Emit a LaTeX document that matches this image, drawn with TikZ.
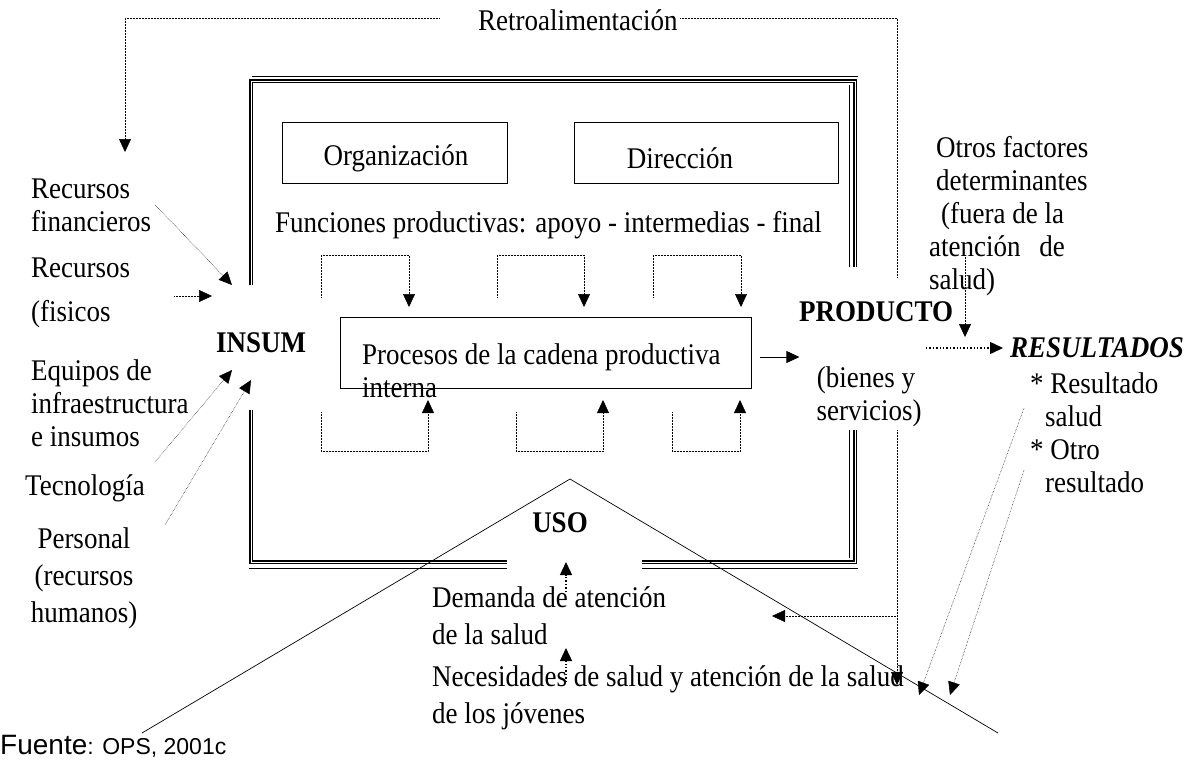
\documentclass[tikz,border=0pt]{standalone}
\usepackage{fontspec}
\setmainfont[FakeStretch=0.9]{Liberation Serif}
\newfontfamily\srcfont{Liberation Sans}
\usetikzlibrary{arrows.meta}
\tikzset{
  lbl/.style={inner sep=0pt, align=left, font=\fontsize{30}{33}\selectfont},
  bld/.style={lbl, font=\fontsize{30}{33}\selectfont\bfseries},
  bx/.style={draw, line width=0.8pt, inner sep=0pt},
  frm/.style={line width=1.3pt, double, double distance=1pt},
  frmin/.style={line width=0.7pt},
  dots/.style={densely dotted, line width=0.5pt},
  dotarr/.style={dots, -{Triangle[length=13pt,width=12pt]}},
  bigdot/.style={dotted, line width=1.4pt, -{Triangle[length=13pt,width=12pt]}},
}
\begin{document}
\begin{tikzpicture}[x=1pt, y=-1pt]
    \useasboundingbox (0,0) rectangle (1190,764);
    % marco doble
    \draw[frm] (251,285) -- (251,81) -- (855,81) -- (855,267);
    \draw[frm] (251,410) -- (251,562) -- (507,562);
    \draw[frm] (642,562) -- (855,562) -- (855,430);
    \draw[frmin] (252,76) -- (858,76);
    \draw[frmin] (849,85) -- (849,267);
    \draw[frmin] (849,430) -- (849,558);
    \draw[frmin] (249,568) -- (507,568);
    \draw[frmin] (642,568) -- (858,568);
    % techo del uso
    \draw[line width=0.7pt] (142,733) -- (570,479) -- (998,733);

    \node[lbl, anchor=west] (retro) at (478,20) {Retroalimentación};
    \node[bx, minimum width=225pt, minimum height=61pt] (org) at (394.5,152.5) {};
    \node[lbl] (orgtxt) at (396,158) {Organización};
    \node[bx, minimum width=264pt, minimum height=61pt] (dir) at (706,152.5) {};
    \node[lbl] (dirtxt) at (680,158) {Dirección};
    \node[lbl, anchor=west] (func) at (275,225)
      {Funciones productivas: apoyo - intermedias - final};
    \node[bx, minimum width=411pt, minimum height=71pt] (proc) at (545.5,352.5) {};
    \node[lbl, anchor=west] (proctxt) at (362,371)
      {Procesos de la cadena productiva\\interna};
    \node[bld, anchor=west] (insum) at (216,343) {INSUM};
    \node[bld, anchor=west] (prod) at (799,312) {PRODUCTO};
    \node[lbl, align=center] (bien) at (866,397) {(bienes y\\\hspace*{6pt}servicios)};
    \node[lbl, anchor=west] (otros) at (929,216)
      {\hspace*{7pt}Otros factores\\\hspace*{7pt}determinantes\\\hspace*{12pt}(fuera de la\\atención\hspace{12pt} de\\salud)};
    \node[lbl, anchor=west, font=\fontsize{30}{33}\selectfont\bfseries\itshape] (res) at (1010,348) {RESULTADOS};
    \node[lbl, anchor=west] (resl) at (1030,433)
      {* Resultado\\\hspace*{15pt}salud\\* Otro\\\hspace*{15pt}resultado};

    \node[lbl, anchor=west] (rfin) at (31,205) {Recursos\\financieros};
    \node[lbl, anchor=west] (rfis) at (31,293) {Recursos\\[11pt](fisicos};
    \node[lbl, anchor=west] (equ) at (31,403) {Equipos de\\infraestructura\\e insumos};
    \node[lbl, anchor=west] (tec) at (25,488) {Tecnología};
    \node[lbl, align=center] (pers) at (84,578) {Personal\\[4pt](recursos\\[4pt]humanos)};

    \node[bld] (uso) at (560,523) {USO};
    \node[lbl, anchor=west] (dem) at (432,616) {Demanda de atención\\[4pt]de la salud};
    \node[lbl, anchor=west] (nec) at (432,698)
      {Necesidades de salud y atención de la salud\\[4pt]de los jóvenes};
    \node[inner sep=0pt, anchor=west] (src) at (0,746)
      {\srcfont\fontsize{28}{30}\selectfont Fuente\fontsize{23}{30}\selectfont: OPS, 2001c};

    % retroalimentacion
    \draw[dotarr] (439,18) -- (125,18) -- (125,152);
    \draw[dots] (680,18) -- (897,18) -- (897,277);
    \draw[dotarr] (897,430) -- (897,685);
    \draw[dotarr] (897,616) -- (772,616);

    % insumos
    \coordinate (i1) at (232,285);
    \coordinate (i2) at (212,296);
    \coordinate (i3) at (232,370);
    \coordinate (i4) at (251,380);
    \draw[dotarr] ([xshift=4pt]rfin.east) -- (i1);
    \draw[dotarr] (174,296) -- (i2);
    \draw[dotarr] (155,462) -- (i3);
    \draw[dotarr] (165,525) -- (i4);

    % funciones
    \foreach \a/\b in {321/409, 497/584, 653/741} {
      \draw[dotarr] (\a,297) -- (\a,255) -- (\b,255) -- (\b,307);
    }
    \foreach \a/\b in {321/428, 516/603, 672/740} {
      \draw[dotarr] (\a,412) -- (\a,451) -- (\b,451) -- (\b,400);
    }
    \draw[line width=0.8pt, -{Triangle[length=13pt,width=12pt]}]
      (proc.east) ++(9,4.5) -- ++(39,0);

    % resultados
    \draw[dotarr] (965,255) -- (965,337);
    \draw[bigdot] (926,348) -- ([xshift=-7pt]res.west);
    \draw[dotarr] (1024,408) -- (919,695);
    \draw[dotarr] (1024,470) -- (950,695);

    % demanda
    \draw[bigdot] (566,592) -- (566,562);
    \draw[bigdot] (566,682) -- (566,648);
\end{tikzpicture}
\end{document}
